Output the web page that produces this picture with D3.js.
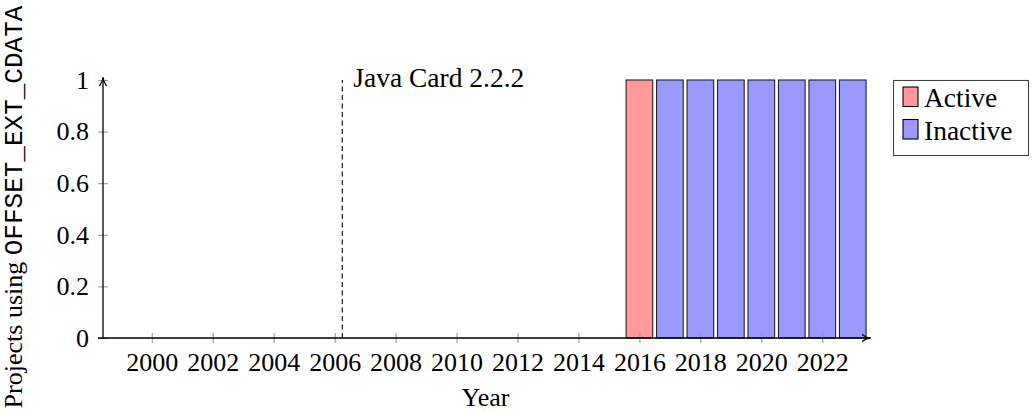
<!DOCTYPE html>
<html><head><meta charset="utf-8">
<script src="https://cdn.jsdelivr.net/npm/d3@7"></script>
<style>body{margin:0;background:#fff}svg{display:block}text{font-family:"Liberation Serif",serif;fill:#000}</style>
</head><body><svg id="c" width="1035" height="412"></svg>
<script>
const years = [2016, 2017, 2018, 2019, 2020, 2021, 2022, 2023];
const active = [1, 0, 0, 0, 0, 0, 0, 0];
const inactive = [0, 1, 1, 1, 1, 1, 1, 1];
const xTicks = [2000, 2002, 2004, 2006, 2008, 2010, 2012, 2014, 2016, 2018, 2020, 2022];
const yTicks = [0, 0.2, 0.4, 0.6, 0.8, 1];
const eventYear = [2006.25];
const eventLabel = ["Java Card 2.2.2"];
const seriesNames = ["Active", "Inactive"];
const seriesColors = ["#ff9999", "#9999ff"];

const svg = d3.select("#c");
const x = d3.scaleLinear().domain([1998.4, 2023.5]).range([103, 868]);
const y = d3.scaleLinear().domain([0, 1]).range([338, 80]);
const fs = 26, fs2 = 27.5;

const defs = svg.append("defs");
defs.append("marker").attr("id","arr").attr("viewBox","0 0 10 10").attr("refX",9).attr("refY",5)
  .attr("markerWidth",9).attr("markerHeight",9).attr("markerUnits","userSpaceOnUse").attr("orient","auto")
  .append("path").attr("d","M0,1 Q5,5 10,5 Q5,5 0,9").attr("fill","none").attr("stroke","#000").attr("stroke-width",1.4);

// stacked bars
const bw = x(2000.437) - x(1999.563);
const stackData = years.map((yr,i)=>({year:yr, Active:active[i], Inactive:inactive[i]}));
const stack = d3.stack().keys(seriesNames)(stackData);
stack.forEach((layer, li) => {
  svg.append("g").selectAll("rect").data(layer.filter(d=>d[1]-d[0]>0)).join("rect")
    .attr("x", d=>x(d.data.year)-bw/2).attr("width", bw)
    .attr("y", d=>y(d[1])).attr("height", d=>y(d[0])-y(d[1]))
    .attr("fill", seriesColors[li]).attr("stroke","#222").attr("stroke-width",1.1);
});

// x axis
const xa = svg.append("g").attr("transform",`translate(0,${y(0)})`)
  .call(d3.axisBottom(x).tickValues(xTicks).tickFormat(d3.format("d")).tickSize(0).tickPadding(15));
xa.select(".domain").remove();
xa.selectAll("text").attr("font-size",fs).attr("font-family","Liberation Serif").attr("dy","0.71em");
xa.selectAll(".tick").append("line").attr("y1",-5).attr("y2",5).attr("stroke","#999").attr("stroke-width",1.1);

// y axis
const ya = svg.append("g").attr("transform",`translate(${x(1998.4)},0)`)
  .call(d3.axisLeft(y).tickValues(yTicks).tickFormat(d=>d===0||d===1?d3.format("d")(d):d3.format(".1f")(d)).tickSize(0).tickPadding(14));
ya.select(".domain").remove();
ya.selectAll("text").attr("font-size",fs).attr("font-family","Liberation Serif");
ya.selectAll(".tick").append("line").attr("x1",-5).attr("x2",5).attr("stroke","#999").attr("stroke-width",1.1);

// axis lines with arrows
svg.append("line").attr("x1",x(1998.4)-5).attr("x2",x(2023.5)+2).attr("y1",y(0)).attr("y2",y(0))
  .attr("stroke","#000").attr("stroke-width",1.3).attr("marker-end","url(#arr)");
svg.append("line").attr("x1",x(1998.4)).attr("x2",x(1998.4)).attr("y1",y(0)+0.6).attr("y2",y(1)-2)
  .attr("stroke","#000").attr("stroke-width",1.3).attr("marker-end","url(#arr)");

// event line
svg.append("line").attr("x1",x(eventYear[0])).attr("x2",x(eventYear[0])).attr("y1",y(0)).attr("y2",y(1))
  .attr("stroke","#000").attr("stroke-width",1.1).attr("stroke-dasharray","5,3.5");
svg.append("text").attr("x",x(eventYear[0])+11).attr("y",y(1)+7).attr("font-size",fs2).text(eventLabel[0]);

// axis labels
svg.append("text").attr("x",(x(1998.4)+x(2023.5))/2).attr("y",406).attr("text-anchor","middle").attr("font-size",fs).text("Year");
const yl = svg.append("text").attr("transform",`translate(22,${(y(0)+y(1))/2 - 2}) rotate(-90)`).attr("text-anchor","middle").attr("font-size",fs);
yl.append("tspan").text("Projects using ");
yl.append("tspan").attr("font-family","Liberation Mono").attr("font-size",fs).text("OFFSET_EXT_CDATA");

// legend
const lg = svg.append("g");
lg.append("rect").attr("x",893.5).attr("y",80.5).attr("width",135).attr("height",75).attr("fill","#fff").attr("stroke","#444").attr("stroke-width",1.1);
seriesNames.forEach((n,i)=>{
  const yy = 87 + i*32.5;
  lg.append("rect").attr("x",903).attr("y",yy).attr("width",15).attr("height",19.5).attr("fill",seriesColors[i]).attr("stroke","#000").attr("stroke-width",1.1);
  lg.append("text").attr("x",924).attr("y",yy+20).attr("font-size",fs2).text(n);
});
</script></body></html>
